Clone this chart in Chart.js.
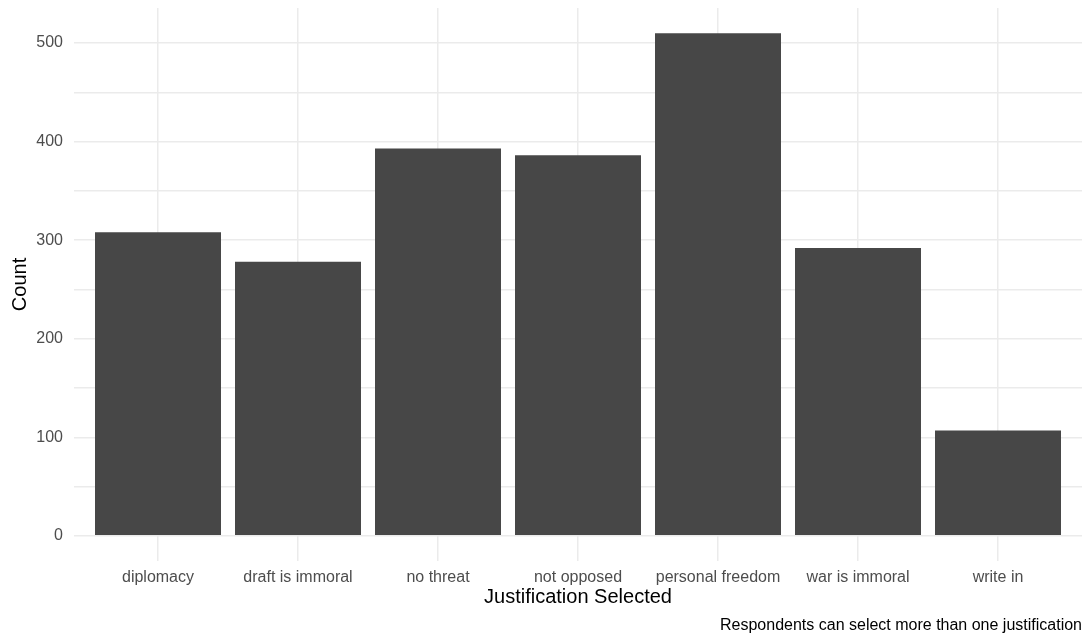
<!DOCTYPE html>
<html>
<head>
<meta charset="utf-8">
<script src="https://cdn.jsdelivr.net/npm/chart.js@4"></script>
<style>
  body { margin: 0; background: #ffffff; }
</style>
</head>
<body>
<canvas id="justchart" width="1082" height="635"></canvas>
<script>
var categories = [
  "diplomacy",
  "draft is immoral",
  "no threat",
  "not opposed",
  "personal freedom",
  "war is immoral",
  "write in",
];
var counts = [308, 278, 393, 386, 510, 292, 107];
var yTicks = [0, 50, 100, 150, 200, 250, 300, 350, 400, 450, 500];

var gridColor = "#ebebeb";
var tickColor = "#4d4d4d";
var font = "Liberation Sans, Arial, Helvetica, sans-serif";

// bars are placed on a linear x axis so the panel can be padded like ggplot
var points = categories.map(function (c, i) {
  return { x: i, y: counts[i] };
});

function setBarChart() {
  var ctx = document.getElementById("justchart").getContext("2d");
  var myChart = new Chart(ctx, {
    type: "bar",
    data: {
      datasets: [
        {
          label: "Count",
          data: points,
          backgroundColor: "#474747",
          borderWidth: 0,
          barPercentage: 0.9,
          categoryPercentage: 1,
        },
      ],
    },
    options: {
      responsive: false,
      animation: false,
      layout: { padding: { top: 8, right: 0, bottom: 0, left: 0 } },
      plugins: {
        legend: { display: false },
        tooltip: { enabled: false },
        subtitle: {
          display: true,
          position: "bottom",
          align: "end",
          text: "Respondents can select more than one justification",
          color: "#000000",
          font: { family: font, size: 16 },
          padding: { top: 0, bottom: 0 },
        },
      },
      scales: {
        x: {
          type: "linear",
          offset: false,
          min: -0.6,
          max: 6.6,
          border: { display: false },
          grid: { color: gridColor, lineWidth: 1.5, drawTicks: false, offset: false },
          afterBuildTicks: function (scale) {
            scale.ticks = categories.map(function (c, i) {
              return { value: i };
            });
          },
          afterFit: function (scale) {
            scale.height = 54.8;
            scale.paddingLeft = 0;
            scale.paddingRight = 0;
          },
          ticks: {
            padding: 7,
            color: tickColor,
            autoSkip: false,
            maxRotation: 0,
            font: { family: font, size: 16 },
            callback: function (value) {
              return categories[value];
            },
          },
          title: {
            display: true,
            text: "Justification Selected",
            color: "#000000",
            font: { family: font, size: 20 },
            padding: { top: 0, bottom: 6 },
          },
        },
        y: {
          min: -25.5,
          max: 535.5,
          border: { display: false },
          grid: { color: gridColor, lineWidth: 1.5, drawTicks: false },
          afterBuildTicks: function (scale) {
            scale.ticks = yTicks.map(function (v) {
              return { value: v };
            });
          },
          afterFit: function (scale) {
            scale.width = 74;
            scale.paddingTop = 0;
            scale.paddingBottom = 0;
          },
          ticks: {
            padding: 11,
            color: tickColor,
            font: { family: font, size: 16 },
            callback: function (value) {
              return value % 100 === 0 ? value : "";
            },
          },
          title: {
            display: true,
            text: "Count",
            color: "#000000",
            font: { family: font, size: 20 },
            padding: { top: 8, bottom: 0 },
          },
        },
      },
    },
  });
}

setBarChart();
</script>
</body>
</html>
